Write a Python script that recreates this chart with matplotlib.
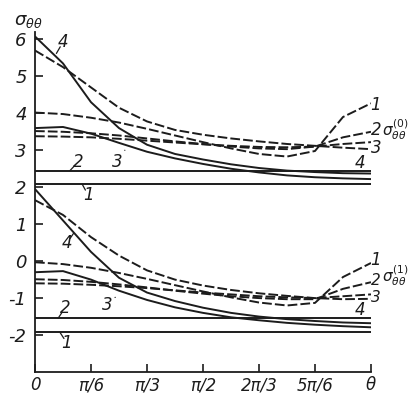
import numpy as np
import matplotlib.pyplot as plt

# angle grid, every 15 degrees from 0 to 180
theta_deg = [0, 15, 30, 45, 60, 75, 90, 105, 120, 135, 150, 165, 180]

# upper family  sigma_thetatheta^(0)
s0_line1 = 2.09
s0_line2 = 2.45
s0_solid3 = [3.60, 3.63, 3.45, 3.20, 2.96, 2.78, 2.63, 2.50, 2.40, 2.32, 2.27, 2.24, 2.22]
s0_solid4 = [6.08, 5.35, 4.30, 3.60, 3.15, 2.90, 2.75, 2.62, 2.52, 2.45, 2.41, 2.38, 2.37]
s0_dash1 = [4.02, 3.98, 3.88, 3.75, 3.58, 3.40, 3.22, 3.05, 2.90, 2.83, 2.98, 3.90, 4.27]
s0_dash2 = [3.52, 3.50, 3.46, 3.40, 3.32, 3.24, 3.17, 3.10, 3.05, 3.03, 3.10, 3.35, 3.50]
s0_dash3 = [3.38, 3.37, 3.35, 3.31, 3.26, 3.21, 3.16, 3.12, 3.09, 3.08, 3.10, 3.17, 3.22]
s0_dash4 = [5.70, 5.25, 4.70, 4.15, 3.78, 3.55, 3.42, 3.32, 3.24, 3.17, 3.12, 3.07, 3.03]

# lower family  sigma_thetatheta^(1)
s1_line1 = -1.93
s1_line2 = -1.55
s1_solid3 = [-0.30, -0.27, -0.50, -0.80, -1.05, -1.25, -1.40, -1.52, -1.60, -1.67, -1.72, -1.76, -1.79]
s1_solid4 = [1.95, 1.10, 0.25, -0.45, -0.85, -1.08, -1.26, -1.40, -1.50, -1.57, -1.62, -1.66, -1.68]
s1_dash1 = [-0.03, -0.08, -0.18, -0.32, -0.48, -0.65, -0.82, -0.98, -1.12, -1.20, -1.13, -0.43, -0.05]
s1_dash2 = [-0.49, -0.51, -0.56, -0.63, -0.71, -0.80, -0.88, -0.95, -1.00, -1.03, -1.03, -0.75, -0.57]
s1_dash3 = [-0.60, -0.61, -0.64, -0.68, -0.73, -0.79, -0.85, -0.90, -0.95, -0.98, -1.00, -0.95, -0.90]
s1_dash4 = [1.65, 1.25, 0.65, 0.15, -0.25, -0.50, -0.66, -0.78, -0.87, -0.94, -1.00, -1.03, -1.02]

xtick_labels = ['0', 'π/6', 'π/3', 'π/2', '2π/3', '5π/6', 'θ']
ytick_vals = [-2, -1, 0, 1, 2, 3, 4, 5, 6]

plt.rcParams['font.family'] = ['DejaVu Sans']
plt.rcParams['mathtext.default'] = 'it'

ink = '#1c1c1c'
th = np.array(theta_deg) * np.pi / 180
fig = plt.figure(figsize=(4.08, 4.03), dpi=100)
ax = fig.add_axes([0.0858, 0.0769, 0.8235, 0.8437])

lw = 1.4
dash = (0, (5, 1.6))
for v in [s0_line1, s0_line2, s1_line1, s1_line2]:
    ax.hlines(v, 0, np.pi, color=ink, lw=lw)
for ys in [s0_solid3, s0_solid4, s1_solid3, s1_solid4]:
    ax.plot(th, ys, color=ink, lw=lw, solid_capstyle='butt')
for ys in [s0_dash1, s0_dash2, s0_dash3, s0_dash4, s1_dash1, s1_dash2, s1_dash3, s1_dash4]:
    ax.plot(th, ys, color=ink, lw=lw, linestyle=dash)

ax.set_xlim(0, np.pi)
ax.set_ylim(-3.0, 6.2)
for s in ['top', 'right']:
    ax.spines[s].set_visible(False)
for s in ['left', 'bottom']:
    ax.spines[s].set_linewidth(1.3)
    ax.spines[s].set_color(ink)

ax.set_xticks(np.arange(7) * np.pi / 6)
ax.set_xticklabels(xtick_labels, fontstyle='italic', fontsize=12)
ax.set_yticks(ytick_vals)
ax.set_yticklabels([str(v) for v in ytick_vals], fontstyle='italic', fontsize=13)
ax.tick_params(direction='in', length=6, width=1.2, color=ink, labelcolor=ink)
ax.tick_params(axis='x', pad=3)
ax.tick_params(axis='y', pad=6)

# curve labels with short leaders
def lab(txt, xy, xytext):
    ax.annotate(txt, xy=xy, xytext=xytext, fontsize=12, fontstyle='italic', color=ink,
                ha='center', va='center', annotation_clip=False,
                arrowprops=dict(arrowstyle='-', lw=0.9, color=ink, shrinkA=4, shrinkB=0))

lab('4', (0.20, 5.62), (0.262, 5.93))
lab('2', (0.327, 2.45), (0.402, 2.68))
lab('1', (0.44, 2.09), (0.496, 1.79))
lab('3', (0.84, 3.00), (0.767, 2.68))
lab('4', (0.36, 0.75), (0.299, 0.49))
lab('2', (0.215, -1.55), (0.28, -1.27))
lab('1', (0.234, -1.93), (0.299, -2.22))
lab('3', (0.75, -0.98), (0.673, -1.19))

def rlab(txt, x, y, fs=12):
    ax.text(x, y, txt, fontsize=fs, fontstyle='italic', color=ink, ha='center', va='center', clip_on=False)

rlab('1', 3.18, 4.23)
rlab('2', 3.19, 3.55)
rlab('3', 3.19, 3.07)
rlab('4', 3.04, 2.66)
rlab('1', 3.18, 0.03)
rlab('2', 3.19, -0.52, 11)
rlab('3', 3.19, -0.98, 11)
rlab('4', 3.04, -1.32)

ax.text(3.37, 3.55, r'$\sigma_{\theta\theta}^{(0)}$', fontsize=11, color=ink, ha='center', va='center', clip_on=False)
ax.text(3.37, -0.40, r'$\sigma_{\theta\theta}^{(1)}$', fontsize=11, color=ink, ha='center', va='center', clip_on=False)
ax.text(-0.06, 6.5, r'$\sigma_{\theta\theta}$', fontsize=13, color=ink, ha='center', va='center', clip_on=False)

fig.savefig('out.png', dpi=100)
